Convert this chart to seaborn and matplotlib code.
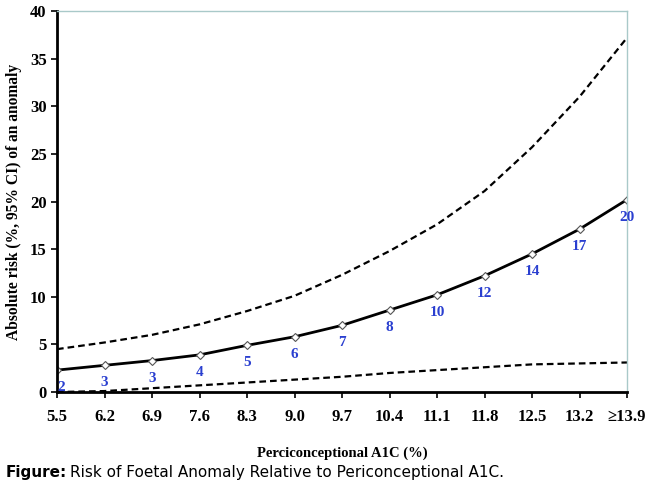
import matplotlib
matplotlib.use("Agg")
import matplotlib.pyplot as plt
import seaborn as sns
import pandas as pd

# categories on the x axis (periconceptional A1C, %)
a1c_labels = ["5.5", "6.2", "6.9", "7.6", "8.3", "9.0", "9.7", "10.4",
              "11.1", "11.8", "12.5", "13.2", "\u226513.9"]
# absolute risk (%) and 95% CI
risk = [2.3, 2.8, 3.3, 3.9, 4.9, 5.8, 7.0, 8.6, 10.2, 12.2, 14.5, 17.1, 20.2]
upper_ci = [4.5, 5.2, 6.0, 7.1, 8.5, 10.1, 12.3, 14.8, 17.6, 21.1, 25.7, 31.0, 37.2]
lower_ci = [0.0, 0.1, 0.4, 0.7, 1.0, 1.3, 1.6, 2.0, 2.3, 2.6, 2.9, 3.0, 3.1]
risk_labels = ["2", "3", "3", "4", "5", "6", "7", "8", "10", "12", "14", "17", "20"]

df = pd.DataFrame({"a1c": a1c_labels, "risk": risk,
                   "upper": upper_ci, "lower": lower_ci})

sns.set_style("white")
plt.rcParams["font.family"] = ["Liberation Serif", "DejaVu Serif"]
plt.rcParams["text.color"] = "black"

fig = plt.figure(figsize=(6.5, 4.91), dpi=100)
ax = fig.add_axes([0.0877, 0.2016, 0.877, 0.776])

#confidence interval lines
sns.lineplot(data=df, x="a1c", y="upper", ax=ax, color="black", linewidth=1.6,
             linestyle=(0, (3, 1.8)), sort=False)
sns.lineplot(data=df, x="a1c", y="lower", ax=ax, color="black", linewidth=1.6,
             linestyle=(0, (3, 1.8)), sort=False)
#main risk line with small open diamonds
sns.lineplot(data=df, x="a1c", y="risk", ax=ax, color="black", linewidth=2.0,
             marker="D", markersize=4, markerfacecolor="white",
             markeredgecolor="#555555", markeredgewidth=0.8, sort=False)

#blue value labels under each point
for i, (v, lab) in enumerate(zip(risk, risk_labels)):
    dx = 0.08 if i == 0 else 0
    ax.annotate(lab, (i + dx, v), xytext=(0, -8), textcoords="offset points",
                ha="center", va="top", color="#2a3fd0", fontsize=11,
                fontweight="bold")

ax.set_xlim(0, len(a1c_labels) - 1)
ax.set_ylim(0, 40)
ax.set_yticks(range(0, 41, 5))
ax.set_xticks(range(len(a1c_labels)))
ax.set_xticklabels(a1c_labels)
ax.tick_params(axis="both", direction="out", length=4, width=1.2,
               labelsize=12, colors="black", bottom=True, left=True)
ax.tick_params(axis="x", pad=8)
for lab in ax.get_xticklabels() + ax.get_yticklabels():
    lab.set_fontweight("bold")

for side in ["left", "bottom"]:
    ax.spines[side].set_color("black")
    ax.spines[side].set_linewidth(2)
for side in ["top", "right"]:
    ax.spines[side].set_color("#a9c9c9")
    ax.spines[side].set_linewidth(1)

ax.set_xlabel("Perciconceptional A1C (%)", fontsize=10.5, fontweight="bold",
              labelpad=16, color="black")
ax.set_ylabel("Absolute risk (%, 95% CI) of an anomaly", fontsize=11.2,
              fontweight="bold", labelpad=6, color="black")

#caption
cap_font = ["Liberation Sans Narrow", "DejaVu Sans"]
t = fig.text(0.008, 0.028, "Figure:", fontsize=11, fontweight="bold",
             family=cap_font, va="baseline", color="black")
fig.canvas.draw()
bb = t.get_window_extent()
fig.text(bb.x1 / fig.bbox.width + 0.006, 0.028,
         "Risk of Foetal Anomaly Relative to Periconceptional A1C.",
         fontsize=11, family=cap_font, va="baseline", color="black")

fig.savefig("out.png", dpi=100)
